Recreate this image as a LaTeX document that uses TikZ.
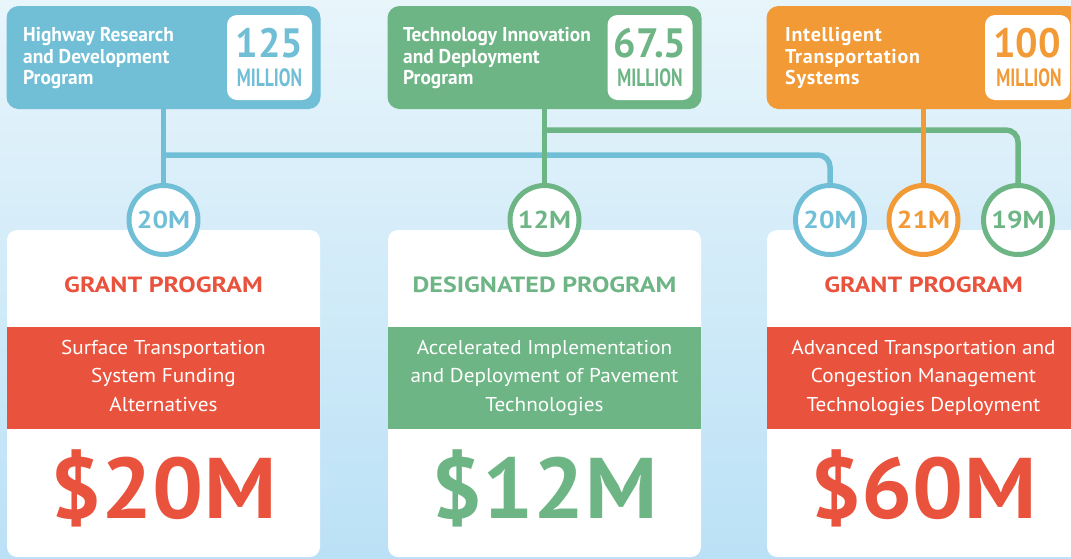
\documentclass[tikz,border=0pt]{standalone}
\usepackage{fontspec}
\setmainfont{PT Sans}
\newfontfamily\headfont[FakeStretch=0.97]{PT Sans}
\newfontfamily\spacedfont[LetterSpace=3.5]{PT Sans}
\newfontfamily\unitfont[FakeStretch=0.7]{PT Sans}
\newfontfamily\typefont[FakeStretch=1.18]{PT Sans}
\newfontfamily\bodyfont[FakeStretch=1.06]{PT Sans}
\newfontfamily\totalfont[FakeStretch=1.05]{PT Sans}
\newfontfamily\sharefont[FakeStretch=1.12]{PT Sans}
\definecolor{hrblue}{HTML}{70BFD6}
\definecolor{tidgreen}{HTML}{6DB585}
\definecolor{itsorange}{HTML}{F29A36}
\definecolor{grantred}{HTML}{E9533D}
\definecolor{skytop}{HTML}{E8F5FB}
\definecolor{skybottom}{HTML}{BBE1F6}
\begin{document}
\begin{tikzpicture}[x=1pt,y=-1pt,
  source/.style={rounded corners=12pt, minimum width=314pt, minimum height=103pt, inner sep=0pt},
  amountbox/.style={fill=white, rounded corners=10pt, minimum width=85pt, minimum height=85pt, inner sep=0pt},
  sourcetitle/.style={anchor=north west, inner sep=0pt, align=left, text=white,
    font=\headfont\bfseries\fontsize{20}{21.5}\selectfont},
  amount/.style={anchor=base, inner sep=0pt, font=\headfont\bfseries\fontsize{41}{41}\selectfont},
  unit/.style={anchor=base, inner sep=0pt, font=\unitfont\bfseries\fontsize{25}{25}\selectfont},
  card/.style={fill=white, rounded corners=10pt, minimum width=313pt, minimum height=327pt, inner sep=0pt},
  band/.style={minimum width=313pt, minimum height=102pt, inner sep=0pt},
  cardtitle/.style={anchor=base, inner sep=0pt, font=\typefont\bfseries\fontsize{22}{22}\selectfont},
  cardtext/.style={anchor=north, inner sep=0pt, align=center, text=white,
    font=\bodyfont\fontsize{20}{28.5}\selectfont},
  total/.style={anchor=base, inner sep=0pt, font=\totalfont\bfseries\fontsize{86}{86}\selectfont},
  share/.style={circle, line width=5pt, fill=white, minimum size=69pt, inner sep=0pt,
    font=\sharefont\bfseries\fontsize{24.5}{24.5}\selectfont},
  link/.style={line width=5.5pt}]

\useasboundingbox (0,0) rectangle (1071,558);
\clip (0,0) rectangle (1071,558);

% sky background
\shade[top color=skytop, bottom color=skybottom] (0,0) rectangle (1071,558);

% funding sources
\node[source, fill=hrblue] (hrd) at (163.5,57.5) {};
\node[source, fill=tidgreen] (tid) at (544.5,57.5) {};
\node[source, fill=itsorange] (its) at (923.5,57.5) {};

\node[amountbox] (hrdamt) at (269.5,57.5) {};
\node[amountbox] (tidamt) at (650,57.5) {};
\node[amountbox] (itsamt) at (1027.5,57.5) {};

\node[sourcetitle] (hrdname) at (23,27.5) {Highway Research\\and Development\\Program};
\node[sourcetitle] (tidname) at (403,27.5) {Technology Innovation\\and Deployment\\Program};
\node[sourcetitle, font=\spacedfont\bfseries\fontsize{20}{21.5}\selectfont] (itsname) at (785,27.5) {Intelligent\\Transportation\\Systems};

\node[amount, text=hrblue] (hrdnum) at (269.5,57) {125};
\node[unit, text=hrblue] (hrdunit) at (269.5,86) {MILLION};
\node[amount, text=tidgreen] (tidnum) at (650,57) {67.5};
\node[unit, text=tidgreen] (tidunit) at (650,86) {MILLION};
\node[amount, text=itsorange] (itsnum) at (1027,57) {100};
\node[unit, text=itsorange] (itsunit) at (1029,86) {MILLION};

% programme cards
\node[card] (sts) at (163.5,393.5) {};
\node[card] (aid) at (544.5,393.5) {};
\node[card] (atc) at (923.5,393.5) {};

\node[band, fill=grantred] (stsband) at (163.5,378) {};
\node[band, fill=tidgreen] (aidband) at (544.5,378) {};
\node[band, fill=grantred] (atcband) at (923.5,378) {};

\node[cardtitle, text=grantred] (ststype) at (163.5,292) {GRANT PROGRAM};
\node[cardtitle, text=tidgreen] (aidtype) at (544.5,292) {DESIGNATED PROGRAM};
\node[cardtitle, text=grantred] (atctype) at (923.5,292) {GRANT PROGRAM};

\node[cardtext] (stsname) at (163.5,340) {Surface Transportation\\System Funding\\Alternatives};
\node[cardtext] (aidname) at (544.5,340) {Accelerated Implementation\\and Deployment of Pavement\\Technologies};
\node[cardtext] (atcname) at (923.5,340) {Advanced Transportation and\\Congestion Management\\Technologies Deployment};

\node[total, text=grantred] (ststotal) at (163.5,518) {\$20M};
\node[total, text=tidgreen] (aidtotal) at (544.5,518) {\$12M};
\node[total, text=grantred] (atctotal) at (923.5,518) {\$60M};

% allocation circles
\node[share, draw=hrblue, text=hrblue] (c1) at (163.5,220) {20M};
\node[share, draw=tidgreen, text=tidgreen] (c2) at (544.5,220) {12M};
\node[share, draw=hrblue, text=hrblue] (c3) at (830,220) {20M};
\node[share, draw=itsorange, text=itsorange] (c4) at (923.5,220) {21M};
\node[share, draw=tidgreen, text=tidgreen] (c5) at (1018,220) {19M};

% connectors
\coordinate (hrdjoint) at (163.5,155);
\coordinate (tidjoint) at (544.5,130);
\draw[link, hrblue] (hrd.south) -- (c1.north);
\draw[link, hrblue, rounded corners=12pt] (hrdjoint) -| (c3.north);
\draw[link, tidgreen] (tid.south) -- (c2.north);
\draw[link, tidgreen, rounded corners=12pt] (tidjoint) -| (c5.north);
\draw[link, itsorange] (its.south) -- (c4.north);
\end{tikzpicture}
\end{document}
